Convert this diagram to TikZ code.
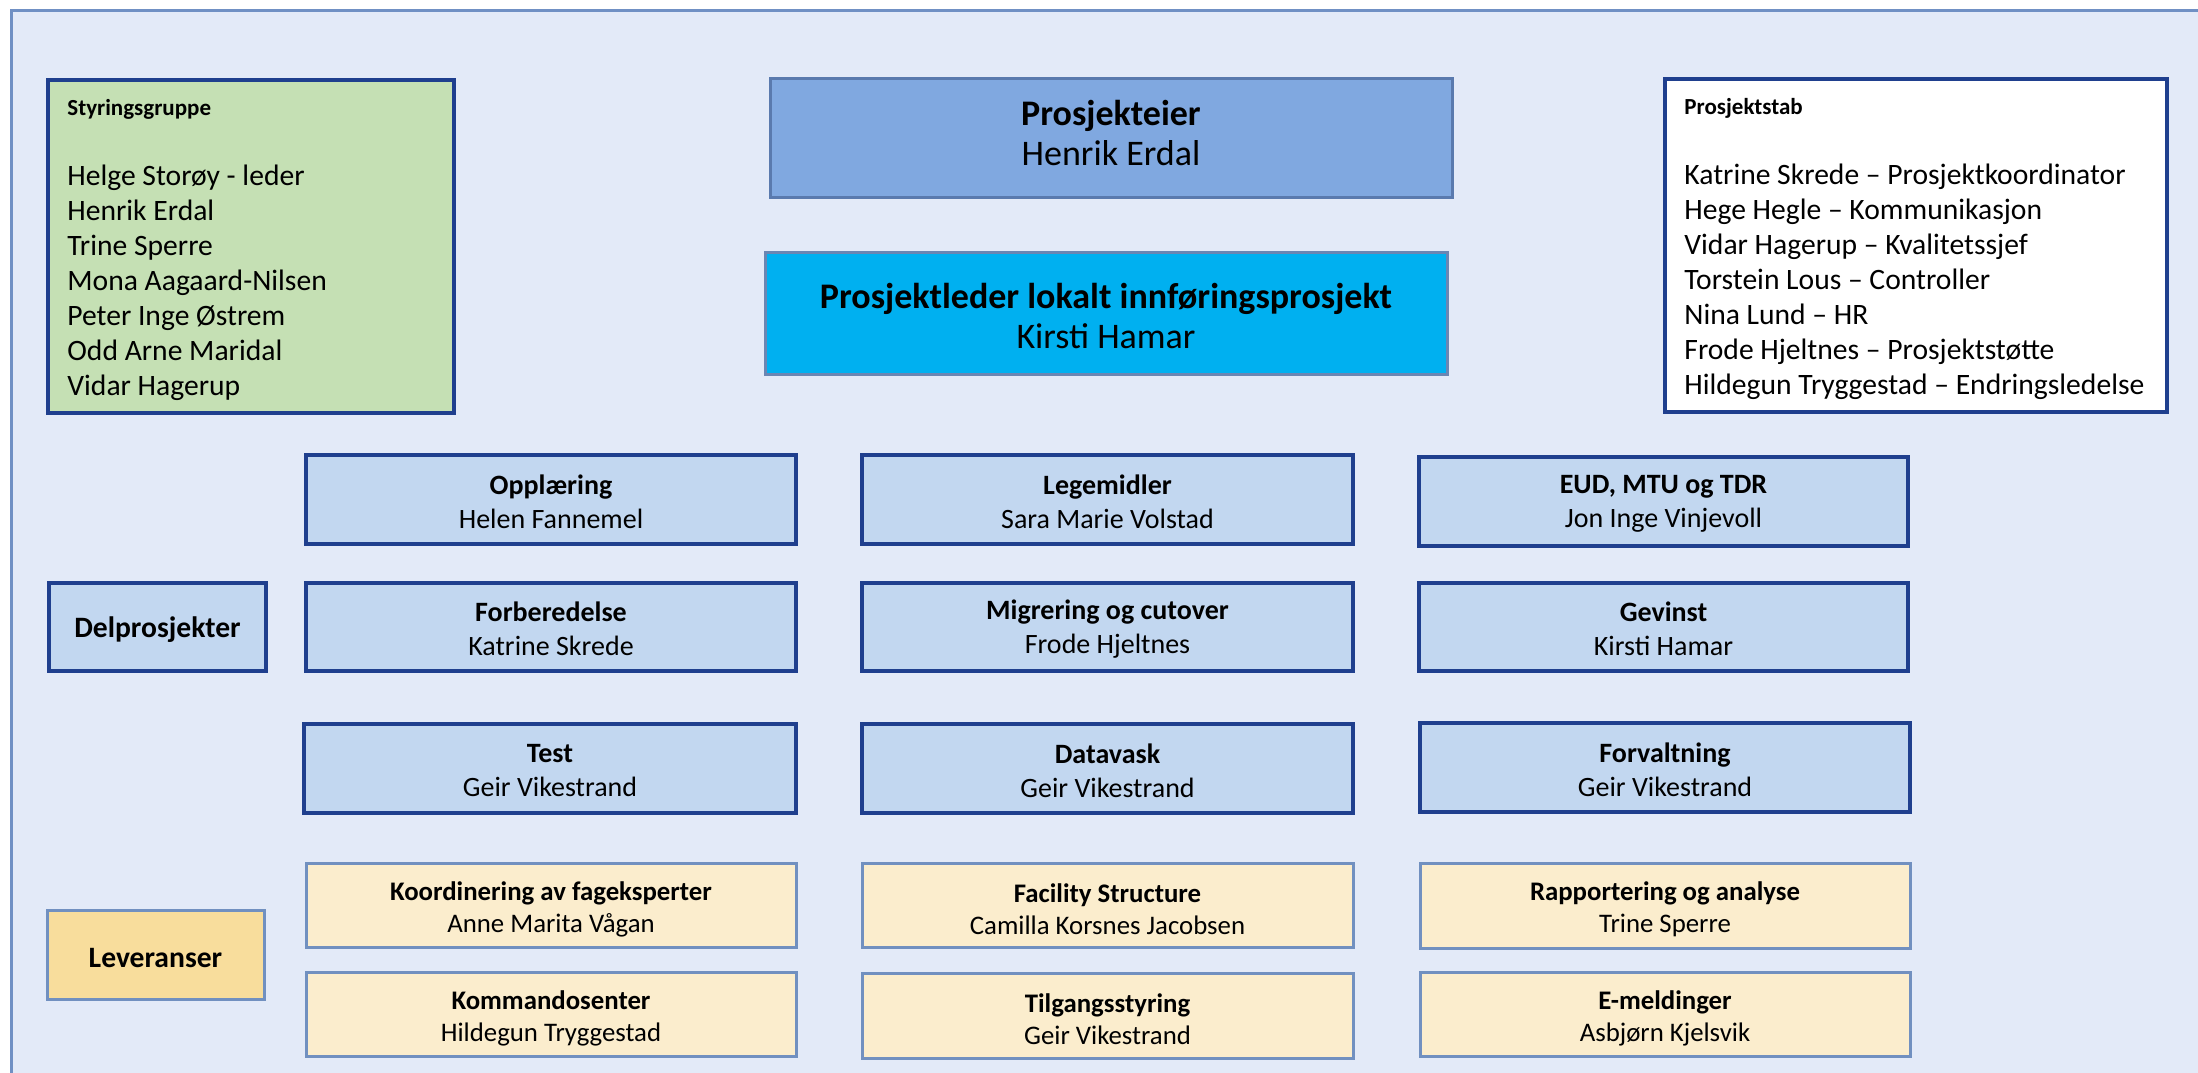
\documentclass[tikz,border=0pt]{standalone}
\usepackage{fontspec}
\setmainfont{Carlito}
\usetikzlibrary{fit}
\definecolor{bgfill}{HTML}{E3EAF8}
\definecolor{frameline}{HTML}{7090C4}
\definecolor{sgfill}{HTML}{C5E0B4}
\definecolor{darkline}{HTML}{1F3F8E}
\definecolor{pefill}{HTML}{80A8E0}
\definecolor{peline}{HTML}{5A7AAE}
\definecolor{plfill}{HTML}{00B0F0}
\definecolor{plline}{HTML}{6A86B3}
\definecolor{dpfill}{HTML}{C2D7F0}
\definecolor{levfill}{HTML}{FBEDCD}
\definecolor{levline}{HTML}{7190C0}
\definecolor{levlabelfill}{HTML}{F8DD9C}
\tikzset{
  boxbase/.style={inner sep=0pt},
  framebox/.style={boxbase, draw=frameline, fill=bgfill, line width=1.5pt},
  sgbox/.style={boxbase, draw=darkline, fill=sgfill, line width=1.75pt},
  psbox/.style={boxbase, draw=darkline, fill=white, line width=1.75pt},
  pebox/.style={boxbase, draw=peline, fill=pefill, line width=1.5pt},
  plbox/.style={boxbase, draw=plline, fill=plfill, line width=1.5pt},
  dpbox/.style={boxbase, draw=darkline, fill=dpfill, line width=1.75pt},
  levbox/.style={boxbase, draw=levline, fill=levfill, line width=1.5pt},
  levlabel/.style={boxbase, draw=levline, fill=levlabelfill, line width=1.5pt},
  dplabel/.style={boxbase, draw=darkline, fill=dpfill, line width=1.75pt},
  toptext/.style={inner sep=0pt, align=center, font=\fontsize{18}{20}\selectfont},
  dptext/.style={inner sep=0pt, align=center, yshift=-1pt, font=\fontsize{14}{17}\selectfont},
  levtext/.style={inner sep=0pt, align=center, yshift=-2pt, font=\fontsize{13.4}{16}\selectfont},
  labeltext/.style={inner sep=0pt, yshift=-1.5pt, font=\fontsize{14.8}{17}\selectfont\bfseries},
  listtext/.style={anchor=west, inner sep=0pt, align=left, font=\fontsize{14.8}{17.5}\selectfont},
}
\newcommand{\ttl}[1]{{\fontsize{11.5}{17.5}\selectfont\bfseries #1}}
\begin{document}
\begin{tikzpicture}[x=0.5pt,y=-0.5pt]
\useasboundingbox (0,0) rectangle (2198,1072);
\fill[white] (0,0) rectangle (2198,1072);
\clip (0,0) rectangle (2198,1072);
\node[framebox, fit={(11,10)(2240,1110)}] (frame) {};

% top level
\node[sgbox, fit={(48,80)(454,413)}] (sg) {};
\node[listtext] (sgtxt) at (67,250) {\ttl{Styringsgruppe}\\[17.5pt]Helge Storøy - leder\\Henrik Erdal\\Trine Sperre\\Mona Aagaard-Nilsen\\Peter Inge Østrem\\Odd Arne Maridal\\Vidar Hagerup};

\node[pebox, fit={(770,78)(1452,197)}] (pe) {};
\node[toptext, yshift=2.5pt] (pe-t) at (pe.center) {\textbf{Prosjekteier}\\Henrik Erdal};
\node[plbox, fit={(765,252)(1447,374)}] (pl) {};
\node[toptext, yshift=-1.5pt] (pl-t) at (pl.center) {\textbf{Prosjektleder lokalt innføringsprosjekt}\\Kirsti Hamar};

\node[psbox, fit={(1665,79)(2167,412)}] (ps) {};
\node[listtext] (pstxt) at (1684,249) {\ttl{Prosjektstab}\\[17.5pt]Katrine Skrede – Prosjektkoordinator\\Hege Hegle – Kommunikasjon\\Vidar Hagerup – Kvalitetssjef\\Torstein Lous – Controller\\Nina Lund – HR\\Frode Hjeltnes – Prosjektstøtte\\Hildegun Tryggestad – Endringsledelse};

% delprosjekter
\node[dplabel, fit={(49,583)(266,671)}] (dplab) {};
\node[labeltext] (dplab-t) at (dplab.center) {Delprosjekter};

\node[dpbox, fit={(306,455)(796,544)}] (opp) {};
\node[dptext] (opp-t) at (opp.center) {\textbf{Opplæring}\\Helen Fannemel};
\node[dpbox, fit={(862,455)(1353,544)}] (leg) {};
\node[dptext] (leg-t) at (leg.center) {\textbf{Legemidler}\\Sara Marie Volstad};
\node[dpbox, fit={(1419,457)(1908,546)}] (eud) {};
\node[dptext] (eud-t) at (eud.center) {\textbf{EUD, MTU og TDR}\\Jon Inge Vinjevoll};

\node[dpbox, fit={(306,583)(796,671)}] (forb) {};
\node[dptext] (forb-t) at (forb.center) {\textbf{Forberedelse}\\Katrine Skrede};
\node[dpbox, fit={(862,583)(1353,671)}] (migr) {};
\node[dptext] (migr-t) at (migr.center) {\textbf{Migrering og cutover}\\Frode Hjeltnes};
\node[dpbox, fit={(1419,583)(1908,671)}] (gev) {};
\node[dptext] (gev-t) at (gev.center) {\textbf{Gevinst}\\Kirsti Hamar};

\node[dpbox, fit={(304,724)(796,813)}] (test) {};
\node[dptext] (test-t) at (test.center) {\textbf{Test}\\Geir Vikestrand};
\node[dpbox, fit={(862,724)(1353,813)}] (dvask) {};
\node[dptext] (dvask-t) at (dvask.center) {\textbf{Datavask}\\Geir Vikestrand};
\node[dpbox, fit={(1420,723)(1910,812)}] (forv) {};
\node[dptext] (forv-t) at (forv.center) {\textbf{Forvaltning}\\Geir Vikestrand};

% leveranser
\node[levlabel, fit={(47,910)(264,999)}] (levlab) {};
\node[labeltext] (levlab-t) at (levlab.center) {Leveranser};

\node[levbox, fit={(306,863)(796,947)}] (koord) {};
\node[levtext] (koord-t) at (koord.center) {\textbf{Koordinering av fageksperter}\\Anne Marita Vågan};
\node[levbox, fit={(862,863)(1353,947)}] (fac) {};
\node[levtext] (fac-t) at (fac.center) {\textbf{Facility Structure}\\Camilla Korsnes Jacobsen};
\node[levbox, fit={(1420,863)(1910,948)}] (rapp) {};
\node[levtext] (rapp-t) at (rapp.center) {\textbf{Rapportering og analyse}\\Trine Sperre};

\node[levbox, fit={(306,972)(796,1056)}] (komm) {};
\node[levtext] (komm-t) at (komm.center) {\textbf{Kommandosenter}\\Hildegun Tryggestad};
\node[levbox, fit={(862,973)(1353,1058)}] (tilg) {};
\node[levtext] (tilg-t) at (tilg.center) {\textbf{Tilgangsstyring}\\Geir Vikestrand};
\node[levbox, fit={(1420,972)(1910,1056)}] (emeld) {};
\node[levtext] (emeld-t) at (emeld.center) {\textbf{E-meldinger}\\Asbjørn Kjelsvik};
\end{tikzpicture}
\end{document}
